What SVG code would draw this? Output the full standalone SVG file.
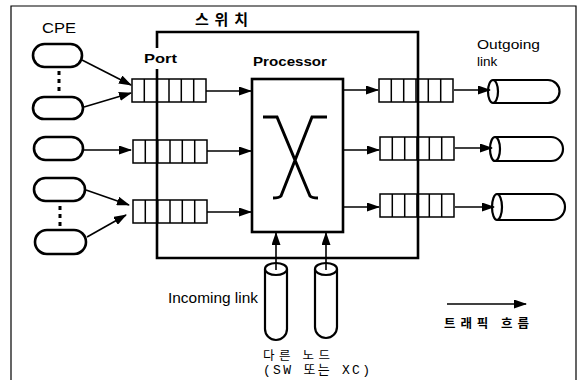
<svg xmlns="http://www.w3.org/2000/svg" width="584" height="380" viewBox="0 0 584 380">
<style>
.t{font-family:"Liberation Sans",Arial,sans-serif;fill:#000}
.b{font-weight:bold}
.k{font-family:"Noto Sans CJK KR","Noto Sans",sans-serif;fill:#000}
.m{font-family:"Liberation Mono","Noto Sans CJK KR",monospace;fill:#000}
.ln{fill:none;stroke:#000;stroke-width:1.6}
.oval{fill:#fff;stroke:#000;stroke-width:2.6}
.cell{fill:#fff;stroke:#000;stroke-width:1.5}
.cyl{fill:#fff;stroke:#000;stroke-width:2.2}
.box{fill:none;stroke:#000;stroke-width:2.6}
</style>
<defs>
<marker id="ah" markerUnits="userSpaceOnUse" markerWidth="13" markerHeight="9" refX="12" refY="4.5" orient="auto">
<path d="M0,0 L13,4.5 L0,9 z" fill="#000"/>
</marker>
<g id="q">
<rect class="cell" x="0" y="0" width="74" height="23"/>
<path class="cell" d="M12.3,0V23M24.7,0V23M37,0V23M49.3,0V23M61.7,0V23"/>
</g>
</defs>

<rect width="584" height="380" fill="#fff"/>
<path d="M11,380 V6 H576 V380" fill="none" stroke="#000" stroke-width="1.2"/>

<g id="cpe">
<text class="t" x="42" y="33" font-size="14" textLength="34" lengthAdjust="spacingAndGlyphs">CPE</text>
<rect class="oval" x="33" y="44" width="49" height="23" rx="11.5"/>
<rect class="oval" x="33" y="97" width="50" height="22" rx="11"/>
<rect class="oval" x="34" y="137" width="49" height="23" rx="11.5"/>
<rect class="oval" x="34" y="178" width="51" height="23" rx="11.5"/>
<rect class="oval" x="35" y="230" width="51" height="24" rx="12"/>
<g fill="#000">
<rect x="57.5" y="71" width="3" height="4"/><rect x="57.5" y="79" width="3" height="4"/><rect x="57.5" y="87" width="3" height="4"/>
<rect x="58.5" y="206" width="3" height="4"/><rect x="58.5" y="214" width="3" height="4"/><rect x="58.5" y="222" width="3" height="4"/>
</g>
</g>

<g id="in-queues">
<use href="#q" x="132" y="79"/>
<use href="#q" x="133" y="140"/>
<use href="#q" x="133" y="200"/>
</g>

<g id="out-queues">
<use href="#q" x="379" y="79"/>
<use href="#q" x="380" y="137"/>
<use href="#q" x="380" y="194"/>
</g>

<g id="switch">
<path class="box" d="M157,48 V32 H418 V258 H157 V69"/>
<text class="k" x="195" y="25" font-size="15" font-weight="bold" textLength="53" lengthAdjust="spacing">스위치</text>
<text class="t b" x="144" y="63" font-size="13.5" textLength="33" lengthAdjust="spacingAndGlyphs">Port</text>
</g>

<g id="processor">
<text class="t b" x="253" y="66" font-size="13.5" textLength="74" lengthAdjust="spacingAndGlyphs">Processor</text>
<rect class="box" x="252" y="79" width="91" height="153" fill="#fff"/>
<path d="M263,117 H277 L310,196 Q312,198 318,198 M327,117 H312 L281,196 Q279,198 273,198" fill="none" stroke="#000" stroke-width="3"/>
</g>

<g id="out-links">
<text class="t" x="477" y="49" font-size="13.5" textLength="63" lengthAdjust="spacingAndGlyphs">Outgoing</text>
<text class="t" x="477" y="66" font-size="13.5">link</text>
<path class="cyl" d="M493,80 H548 A11.5,11.5 0 0 1 548,103 H493"/>
<ellipse class="cyl" cx="493" cy="91.5" rx="5" ry="11.5"/>
<path class="cyl" d="M495,137 H551 A12,12 0 0 1 551,161 H495"/>
<ellipse class="cyl" cx="495" cy="149" rx="5" ry="12"/>
<path class="cyl" d="M497,194 H552 A13,13 0 0 1 552,220 H497"/>
<ellipse class="cyl" cx="497" cy="207" rx="5" ry="13"/>
</g>

<g id="in-links">
<text class="t" x="168" y="303" font-size="14" textLength="90" lengthAdjust="spacingAndGlyphs">Incoming link</text>
<path class="cyl" d="M265,269 V329 A11,11 0 0 0 287,329 V269"/>
<ellipse class="cyl" cx="276" cy="269" rx="11" ry="6"/>
<path class="cyl" d="M315,269 V327 A11,11 0 0 0 337,327 V269"/>
<ellipse class="cyl" cx="326" cy="269" rx="11" ry="6"/>
<text class="k" x="263" y="360" font-size="12.5" textLength="67" lengthAdjust="spacing">다른 노드</text>
<text class="m" x="263" y="374" font-size="13" textLength="107" lengthAdjust="spacing">(SW 또는 XC)</text>
</g>

<g id="legend">
<line class="ln" x1="447" y1="304" x2="526" y2="304" marker-end="url(#ah)"/>
<text class="k" x="444" y="328" font-size="12.5" font-weight="bold" textLength="85" lengthAdjust="spacing">트래픽 흐름</text>
</g>

<g id="connectors">
<line class="ln" x1="82" y1="60" x2="131" y2="85" marker-end="url(#ah)"/>
<line class="ln" x1="84" y1="107" x2="131" y2="93" marker-end="url(#ah)"/>
<line class="ln" x1="83" y1="150" x2="131" y2="150" marker-end="url(#ah)"/>
<line class="ln" x1="86" y1="190" x2="129" y2="205" marker-end="url(#ah)"/>
<line class="ln" x1="87" y1="237" x2="126" y2="215" marker-end="url(#ah)"/>
<line class="ln" x1="206" y1="91" x2="251" y2="91" marker-end="url(#ah)"/>
<line class="ln" x1="207" y1="151" x2="251" y2="151" marker-end="url(#ah)"/>
<line class="ln" x1="207" y1="212" x2="251" y2="212" marker-end="url(#ah)"/>
<line class="ln" x1="344" y1="90" x2="378" y2="90" marker-end="url(#ah)"/>
<line class="ln" x1="344" y1="150" x2="379" y2="150" marker-end="url(#ah)"/>
<line class="ln" x1="344" y1="207" x2="379" y2="207" marker-end="url(#ah)"/>
<line class="ln" x1="454" y1="90" x2="490" y2="90" marker-end="url(#ah)"/>
<line class="ln" x1="455" y1="148" x2="492" y2="148" marker-end="url(#ah)"/>
<line class="ln" x1="455" y1="207" x2="494" y2="207" marker-end="url(#ah)"/>
<line class="ln" x1="276" y1="270" x2="276" y2="233" marker-end="url(#ah)"/>
<line class="ln" x1="326" y1="270" x2="326" y2="233" marker-end="url(#ah)"/>
</g>
</svg>
